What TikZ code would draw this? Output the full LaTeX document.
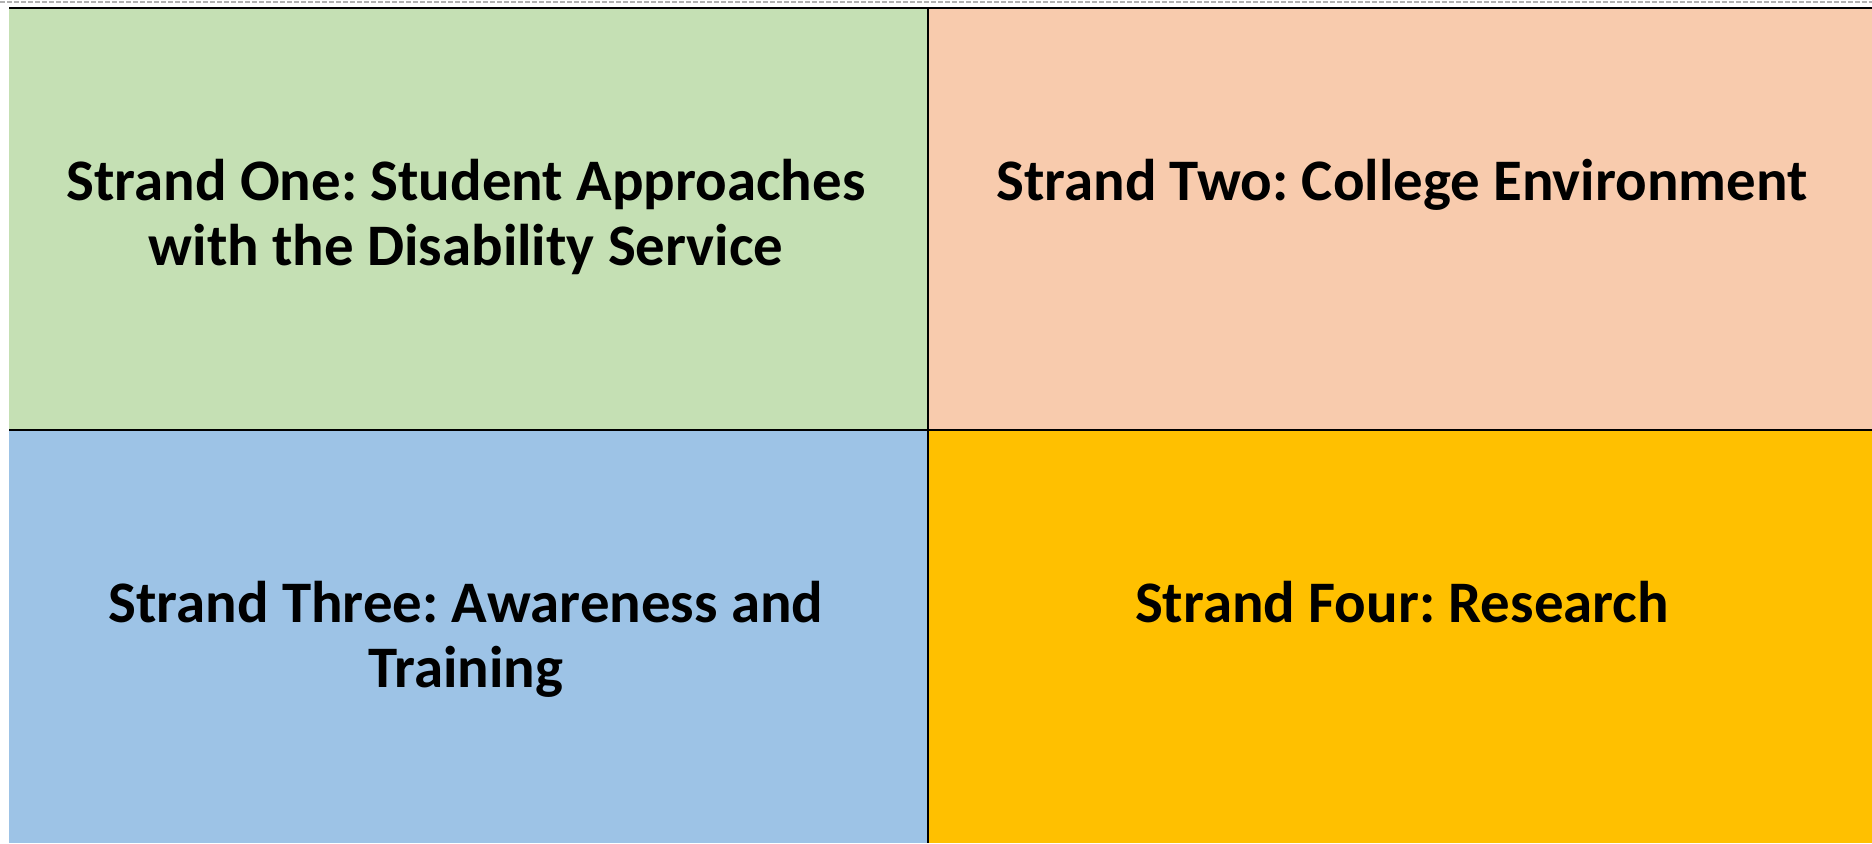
\documentclass[tikz,border=0pt]{standalone}
\usepackage{fontspec}
\setmainfont{Carlito}
\usetikzlibrary{positioning}
\definecolor{strandgreen}{HTML}{C5E0B4}
\definecolor{strandpeach}{HTML}{F8CBAD}
\definecolor{strandblue}{HTML}{9DC3E6}
\definecolor{strandgold}{HTML}{FFC000}
\frenchspacing

\begin{document}
\begin{tikzpicture}[x = 0.02cm, y = -0.02cm]

\tikzset{
cell/.style = {rectangle, inner sep = 0pt, outer sep = 0pt, anchor = north west},
strand/.style = {align = center, anchor = base, inner sep = 0pt,
	font = \fontsize{33.5}{37}\selectfont\bfseries},
grid/.style = {line width = 1.2pt, black},
}

\useasboundingbox (0, 0) rectangle (1872, 843);

%% Cells
\node at (9, 8) [cell, fill = strandgreen, minimum width = 919*0.02cm, minimum height = 422*0.02cm] (one) {};
\node at (928, 8) [cell, fill = strandpeach, minimum width = 944*0.02cm, minimum height = 422*0.02cm] (two) {};
\node at (9, 430) [cell, fill = strandblue, minimum width = 919*0.02cm, minimum height = 413*0.02cm] (three) {};
\node at (928, 430) [cell, fill = strandgold, minimum width = 944*0.02cm, minimum height = 413*0.02cm] (four) {};

%% Lines
\draw [gray!60, line width = 1.5pt, dash pattern = on 0.1cm off 0.04cm] (0, 2) -- (1872, 2);
\draw [grid] (one.north west) -- (two.north east);
\draw [grid] (one.south west) -- (two.south east);
\draw [grid] (one.north east) -- (three.south east);

%% Labels (base = last line)
\node at (466, 265) [strand] (s1) {Strand One: Student Approaches\\with the Disability Service};
\node at (1402, 200) [strand] (s2) {Strand Two: College Environment};
\node at (466, 687) [strand] (s3) {Strand Three: Awareness and\\Training};
\node at (1402, 622) [strand] (s4) {Strand Four: Research};

\end{tikzpicture}
\end{document}
